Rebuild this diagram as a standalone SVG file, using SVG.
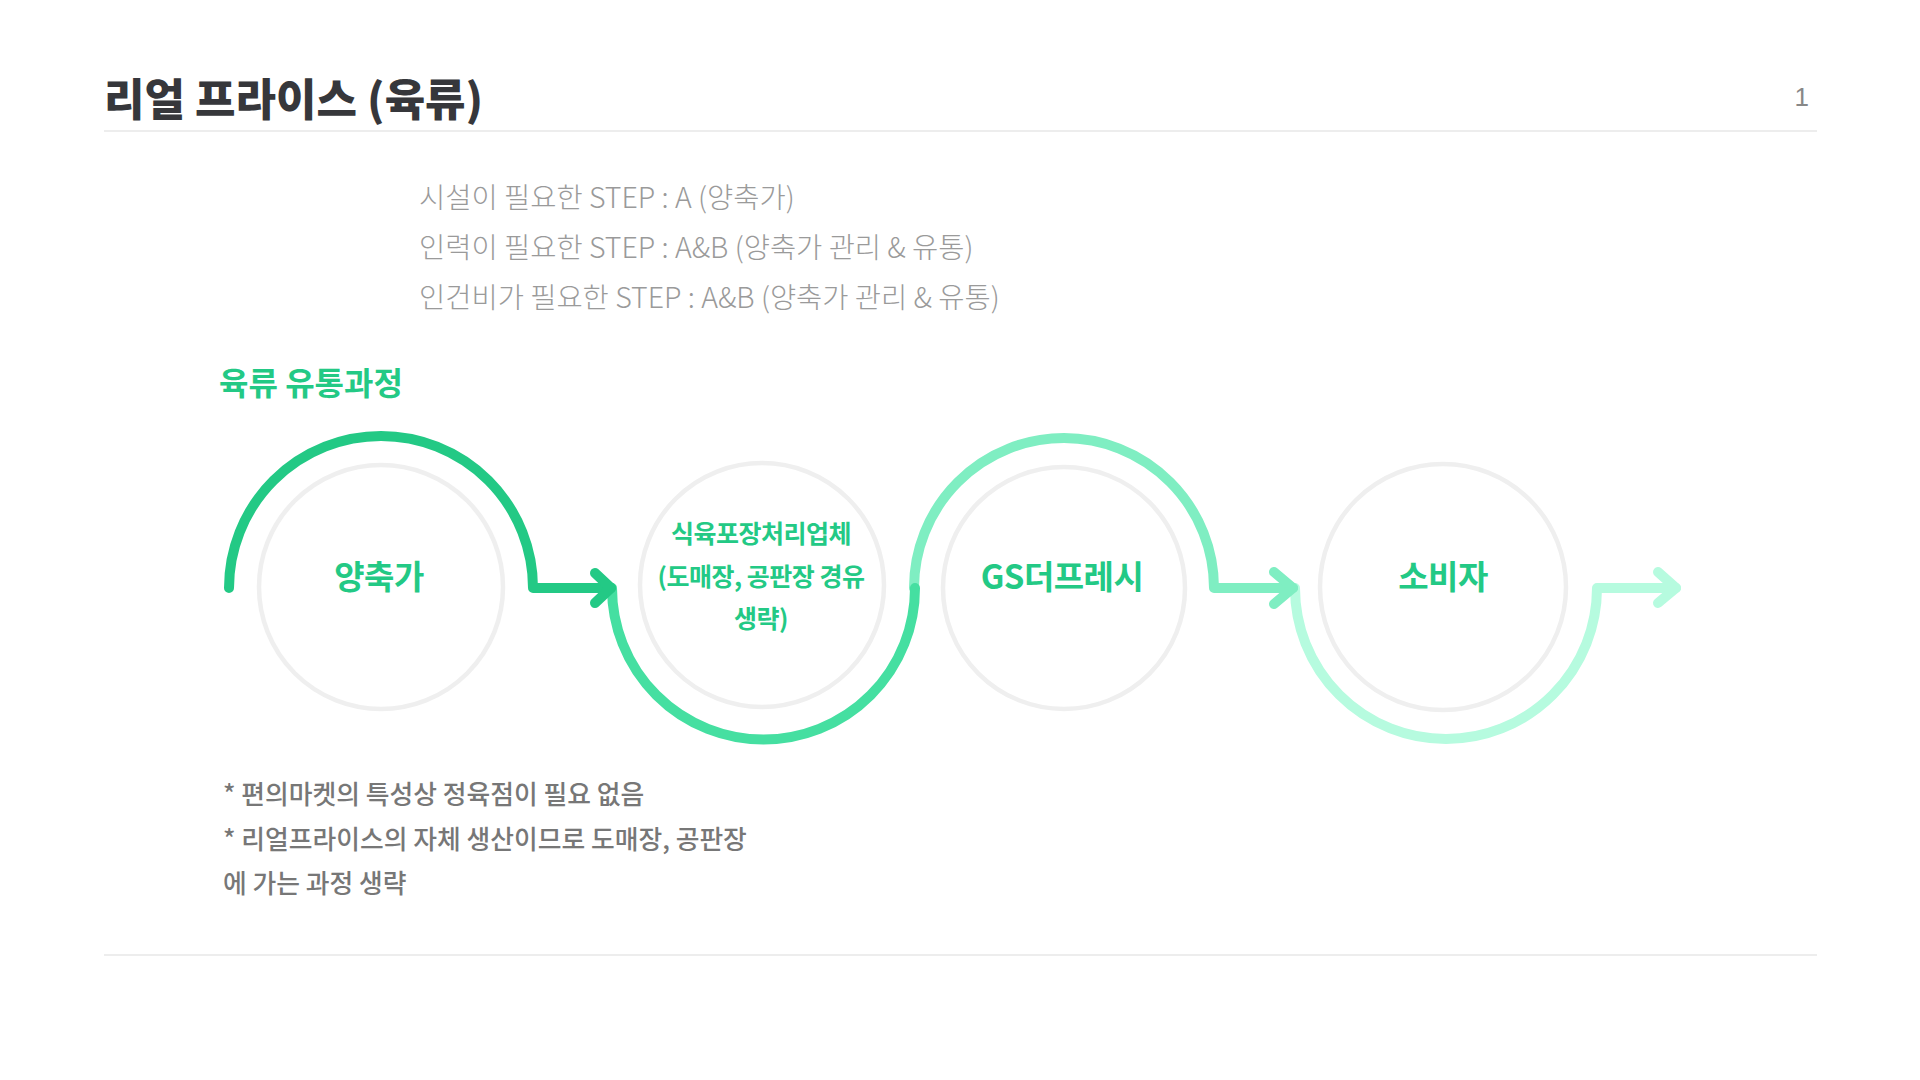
<svg xmlns="http://www.w3.org/2000/svg" width="1920" height="1080" viewBox="0 0 1920 1080">
<style>
.kr{font-family:"Noto Sans CJK KR","Noto Sans",sans-serif}
.title{font-size:44px;font-weight:900;fill:#36373b}
.step{font-size:28.5px;font-weight:300;fill:#9a9a9a}
.sec{font-size:32px;font-weight:700;fill:#23c985}
.node{fill:#fff;stroke:#efefef;stroke-width:4.5}
.lbl{font-size:33px;font-weight:700;fill:#23c985;text-anchor:middle;letter-spacing:-0.5px}
.lbl2{font-size:25px;font-weight:700;fill:#23c985;text-anchor:middle;letter-spacing:-0.5px}
.note{font-size:25.8px;font-weight:500;fill:#777}
.rule{stroke:#ededed;stroke-width:2}
.arc{fill:none;stroke-width:10;stroke-linecap:round;stroke-linejoin:round}
</style>
<rect width="1920" height="1080" fill="#fff"/>
<text class="kr title" x="104" y="116">리얼 프라이스 (육류)</text>
<text x="1809" y="106" font-family="Liberation Sans, sans-serif" font-size="26" fill="#888" text-anchor="end">1</text>
<line class="rule" x1="104" y1="131" x2="1817" y2="131"/>
<text class="kr step" x="419" y="208">시설이 필요한 STEP : A (양축가)</text>
<text class="kr step" x="419" y="258">인력이 필요한 STEP : A&amp;B (양축가 관리 &amp; 유통)</text>
<text class="kr step" x="419" y="308">인건비가 필요한 STEP : A&amp;B (양축가 관리 &amp; 유통)</text>
<text class="kr sec" x="219" y="395">육류 유통과정</text>
<g id="node-farm"><circle class="node" cx="381" cy="587" r="122"/><text class="kr lbl" x="379" y="589">양축가</text></g>
<g id="node-processor"><circle class="node" cx="762" cy="585" r="122"/><text class="kr lbl2"><tspan x="761" y="543">식육포장처리업체</tspan><tspan x="761" y="586">(도매장, 공판장 경유</tspan><tspan x="761" y="628">생략)</tspan></text></g>
<g id="node-gs"><circle class="node" cx="1064" cy="588" r="121"/><text class="kr lbl" x="1062" y="589">GS더프레시</text></g>
<g id="node-consumer"><circle class="node" cx="1443" cy="587" r="123"/><text class="kr lbl" x="1443" y="589">소비자</text></g>
<g id="connectors">
<g class="arc" stroke="#b6fbdf"><path d="M1295 588 A151 151 0 0 0 1597 588 L1676 588"/><path d="M1658 572 L1676 588 L1658 603"/></g>
<g class="arc" stroke="#7feec2"><path d="M914 588 A150 150 0 0 1 1214 588 L1293 588"/><path d="M1274 572 L1293 588 L1274 604"/></g>
<g class="arc" stroke="#45dfa1"><path d="M612 588 A151.5 151.5 0 0 0 915 588"/></g>
<g class="arc" stroke="#23c985"><path d="M229 588 A152 152 0 0 1 533 588 L611 588"/><path d="M595 573 L611 588 L595 603"/></g>
</g>
<text class="kr note" x="223" y="804">* 편의마켓의 특성상 정육점이 필요 없음</text>
<text class="kr note" x="223" y="849">* 리얼프라이스의 자체 생산이므로 도매장, 공판장</text>
<text class="kr note" x="223" y="893">에 가는 과정 생략</text>
<line class="rule" x1="104" y1="955" x2="1817" y2="955"/>
</svg>
